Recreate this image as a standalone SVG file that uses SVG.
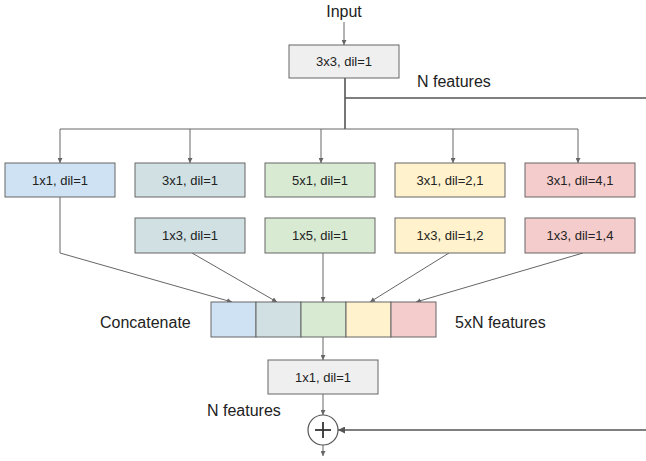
<svg xmlns="http://www.w3.org/2000/svg" width="646" height="461" viewBox="0 0 646 461">
  <style>
    .box { stroke: #666; stroke-width: 1; }
    .gray { fill: #efefef; }
    .blue { fill: #cfe2f3; }
    .slate { fill: #d0e0e3; }
    .green { fill: #d9ead3; }
    .yellow { fill: #fff2cc; }
    .red { fill: #f4cccc; }
    .t { font-family: "Liberation Sans", Arial, sans-serif; font-size: 13px; fill: #222; text-anchor: middle; }
    .lbl { font-family: "Liberation Sans", Arial, sans-serif; font-size: 16px; fill: #222; }
    .ln { fill: none; stroke: #666; stroke-width: 1; }
    .thick { fill: none; stroke: #555; stroke-width: 1.6; }
  </style>
  <defs>
    <marker id="ah" viewBox="0 0 10 10" refX="10" refY="5" markerWidth="5" markerHeight="5" orient="auto">
      <path d="M0,0 L10,5 L0,10 z" fill="#666"/>
    </marker>
    <marker id="ahBig" viewBox="0 0 10 10" refX="10" refY="5" markerWidth="7" markerHeight="7" orient="auto" markerUnits="userSpaceOnUse">
      <path d="M0,0 L10,5 L0,10 z" fill="#555"/>
    </marker>
  </defs>
  <rect width="646" height="461" fill="#fff"/>

  <!-- connectors -->
  <g id="connectors">
    <line class="ln" x1="344" y1="22" x2="344" y2="45" marker-end="url(#ah)"/>
    <line class="thick" x1="345" y1="78" x2="345" y2="129"/>
    <line class="thick" x1="345" y1="98" x2="646" y2="98"/>
    <line class="ln" x1="60" y1="129" x2="578" y2="129"/>
    <line class="ln" x1="60" y1="129" x2="60" y2="163" marker-end="url(#ah)"/>
    <line class="ln" x1="190" y1="129" x2="190" y2="163" marker-end="url(#ah)"/>
    <line class="ln" x1="321" y1="129" x2="321" y2="163" marker-end="url(#ah)"/>
    <line class="ln" x1="453" y1="129" x2="453" y2="163" marker-end="url(#ah)"/>
    <line class="ln" x1="578" y1="129" x2="578" y2="163" marker-end="url(#ah)"/>
    <polyline class="ln" points="60,197 60,253 232,302" marker-end="url(#ah)"/>
    <line class="ln" x1="192" y1="253" x2="277" y2="302" marker-end="url(#ah)"/>
    <line class="ln" x1="323" y1="253" x2="323" y2="302" marker-end="url(#ah)"/>
    <line class="ln" x1="449" y1="253" x2="370" y2="302" marker-end="url(#ah)"/>
    <line class="ln" x1="583" y1="253" x2="416" y2="302" marker-end="url(#ah)"/>
    <line class="ln" x1="323" y1="337" x2="323" y2="360" marker-end="url(#ah)"/>
    <line class="ln" x1="323" y1="394" x2="323" y2="415" marker-end="url(#ah)"/>
    <line class="thick" x1="646" y1="430" x2="338" y2="430" marker-end="url(#ahBig)"/>
    <line class="ln" x1="323" y1="445" x2="323" y2="456" marker-end="url(#ah)"/>
  </g>

  <g id="input-label"><text class="lbl" x="344" y="17" text-anchor="middle">Input</text></g>

  <g id="conv3x3">
    <rect class="box gray" x="289" y="45" width="110" height="33"/>
    <text class="t" x="344" y="66">3x3, dil=1</text>
  </g>
  <g id="n-features-top"><text class="lbl" x="417" y="87">N features</text></g>

  <!-- first row of branches -->
  <g id="b1">
    <rect class="box blue" x="5" y="163" width="110" height="34"/>
    <text class="t" x="60" y="185">1x1, dil=1</text>
  </g>
  <g id="b2a">
    <rect class="box slate" x="135" y="163" width="110" height="34"/>
    <text class="t" x="190" y="185">3x1, dil=1</text>
  </g>
  <g id="b3a">
    <rect class="box green" x="265" y="163" width="110" height="34"/>
    <text class="t" x="320" y="185">5x1, dil=1</text>
  </g>
  <g id="b4a">
    <rect class="box yellow" x="395" y="163" width="110" height="34"/>
    <text class="t" x="450" y="185">3x1, dil=2,1</text>
  </g>
  <g id="b5a">
    <rect class="box red" x="525" y="163" width="110" height="34"/>
    <text class="t" x="580" y="185">3x1, dil=4,1</text>
  </g>

  <!-- second row of branches -->
  <g id="b2b">
    <rect class="box slate" x="135" y="218" width="110" height="35"/>
    <text class="t" x="190" y="240">1x3, dil=1</text>
  </g>
  <g id="b3b">
    <rect class="box green" x="265" y="218" width="110" height="35"/>
    <text class="t" x="320" y="240">1x5, dil=1</text>
  </g>
  <g id="b4b">
    <rect class="box yellow" x="395" y="218" width="110" height="35"/>
    <text class="t" x="450" y="240">1x3, dil=1,2</text>
  </g>
  <g id="b5b">
    <rect class="box red" x="525" y="218" width="110" height="35"/>
    <text class="t" x="580" y="240">1x3, dil=1,4</text>
  </g>

  <!-- concatenation block -->
  <g id="concat">
    <rect class="box blue" x="211" y="302" width="45" height="35"/>
    <rect class="box slate" x="256" y="302" width="45" height="35"/>
    <rect class="box green" x="301" y="302" width="45" height="35"/>
    <rect class="box yellow" x="346" y="302" width="45" height="35"/>
    <rect class="box red" x="391" y="302" width="45" height="35"/>
  </g>
  <g id="concat-label"><text class="lbl" x="100" y="328">Concatenate</text></g>
  <g id="features-5n"><text class="lbl" x="455" y="328">5xN features</text></g>

  <g id="conv1x1">
    <rect class="box gray" x="268" y="360" width="110" height="34"/>
    <text class="t" x="323" y="382">1x1, dil=1</text>
  </g>
  <g id="n-features-bottom"><text class="lbl" x="207" y="416">N features</text></g>

  <g id="add">
    <circle cx="323" cy="430" r="15" fill="#fff" stroke="#555" stroke-width="1.2"/>
    <line x1="315" y1="430" x2="331" y2="430" stroke="#333" stroke-width="1.8"/>
    <line x1="323" y1="422" x2="323" y2="438" stroke="#333" stroke-width="1.8"/>
  </g>
</svg>
